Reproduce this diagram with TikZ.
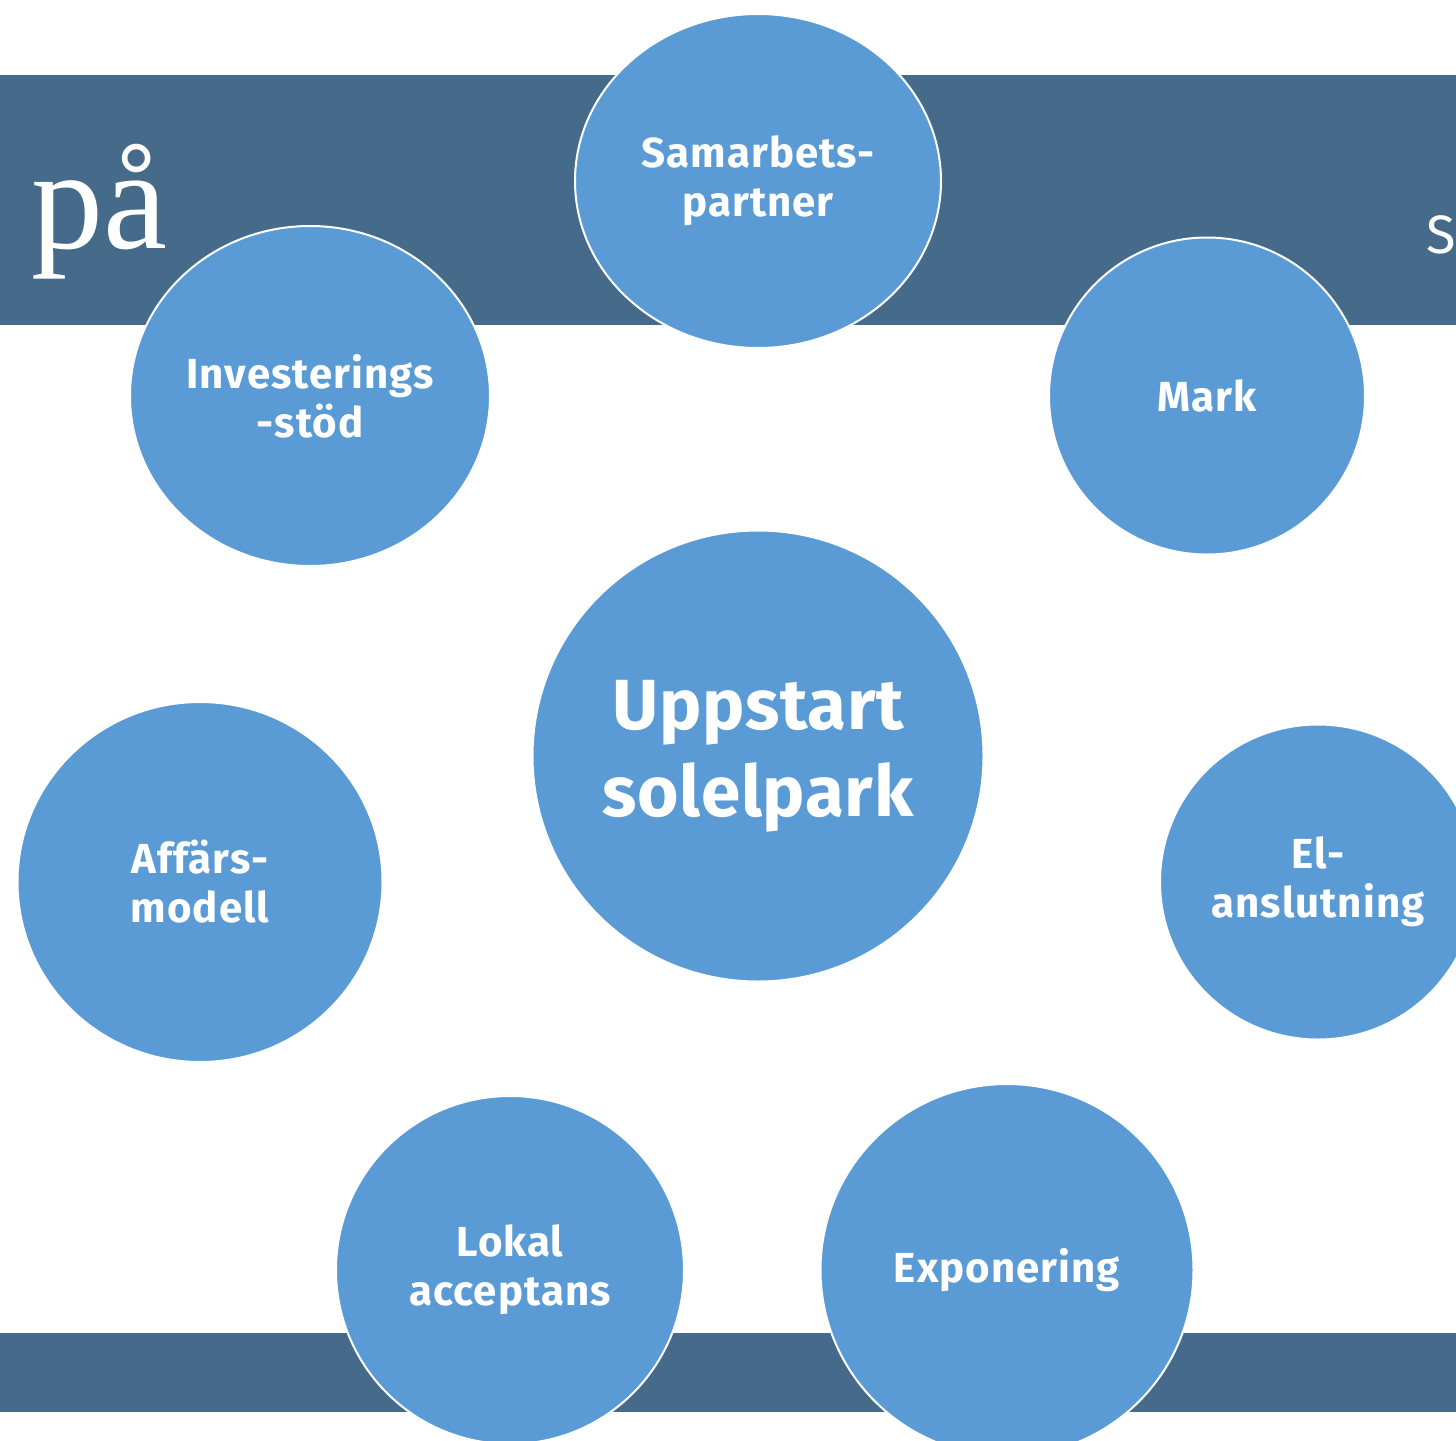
\documentclass[tikz,border=0pt]{standalone}
\usepackage{fontspec}
\setsansfont[LetterSpace=2.5]{Fira Sans}
\newfontfamily\bigsans[LetterSpace=1]{Fira Sans}
\newfontfamily\pafont{Liberation Serif}
\usetikzlibrary{shapes.geometric}
\definecolor{band}{HTML}{466A8A}
\definecolor{bubble}{HTML}{5B9BD5}
\tikzset{
  bub/.style={ellipse, fill=bubble, draw=white, line width=1pt, inner sep=0pt,
    text=white, align=center, font=\sffamily\bfseries\fontsize{21}{24.5}\selectfont},
  bandbox/.style={fill=band, draw=none}
}
\begin{document}
\begin{tikzpicture}[x=0.5pt,y=-0.5pt]
\useasboundingbox (0,0) rectangle (1456,1440);
\clip (0,0) rectangle (1456,1440);
% bands
\path[bandbox] (0,75) rectangle (1456,325);
\path[bandbox] (0,1333) rectangle (1456,1412);
% band texts
\node[anchor=base west, inner sep=0pt, text=white, font=\pafont\fontsize{72}{80}\selectfont] (pa) at (31,248) {på};
\node[anchor=base west, inner sep=0pt, text=white, font=\sffamily\fontsize{27}{30}\selectfont] (s) at (1426,253) {S};
% bubbles (sizes: diameter in px * 0.5pt)
\node[bub, minimum width=183pt, minimum height=167pt] (samarbets) at (758,181) {Samarbets-\\partner};
\node[bub, minimum width=180pt, minimum height=170pt] (invest) at (310,396) {Investerings\\-stöd};
\node[bub, minimum width=158pt, minimum height=158.5pt] (mark) at (1207,396) {Mark};
\node[bub, minimum width=225.5pt, minimum height=225.5pt,
  font=\bigsans\bfseries\fontsize{35.5}{43.5}\selectfont] (uppstart) at (758,756) {Uppstart\\solelpark};
\node[bub, minimum width=182.5pt, minimum height=180pt] (affars) at (200,882) {Affärs-\\modell};
\node[bub, minimum width=158pt, minimum height=157.5pt] (el) at (1318,882) {El-\\anslutning};
\node[bub, minimum width=174pt, minimum height=174pt] (lokal) at (510,1270) {Lokal\\acceptans};
\node[bub, minimum width=186.5pt, minimum height=186pt] (expo) at (1007,1270) {Exponering};
\end{tikzpicture}
\end{document}
